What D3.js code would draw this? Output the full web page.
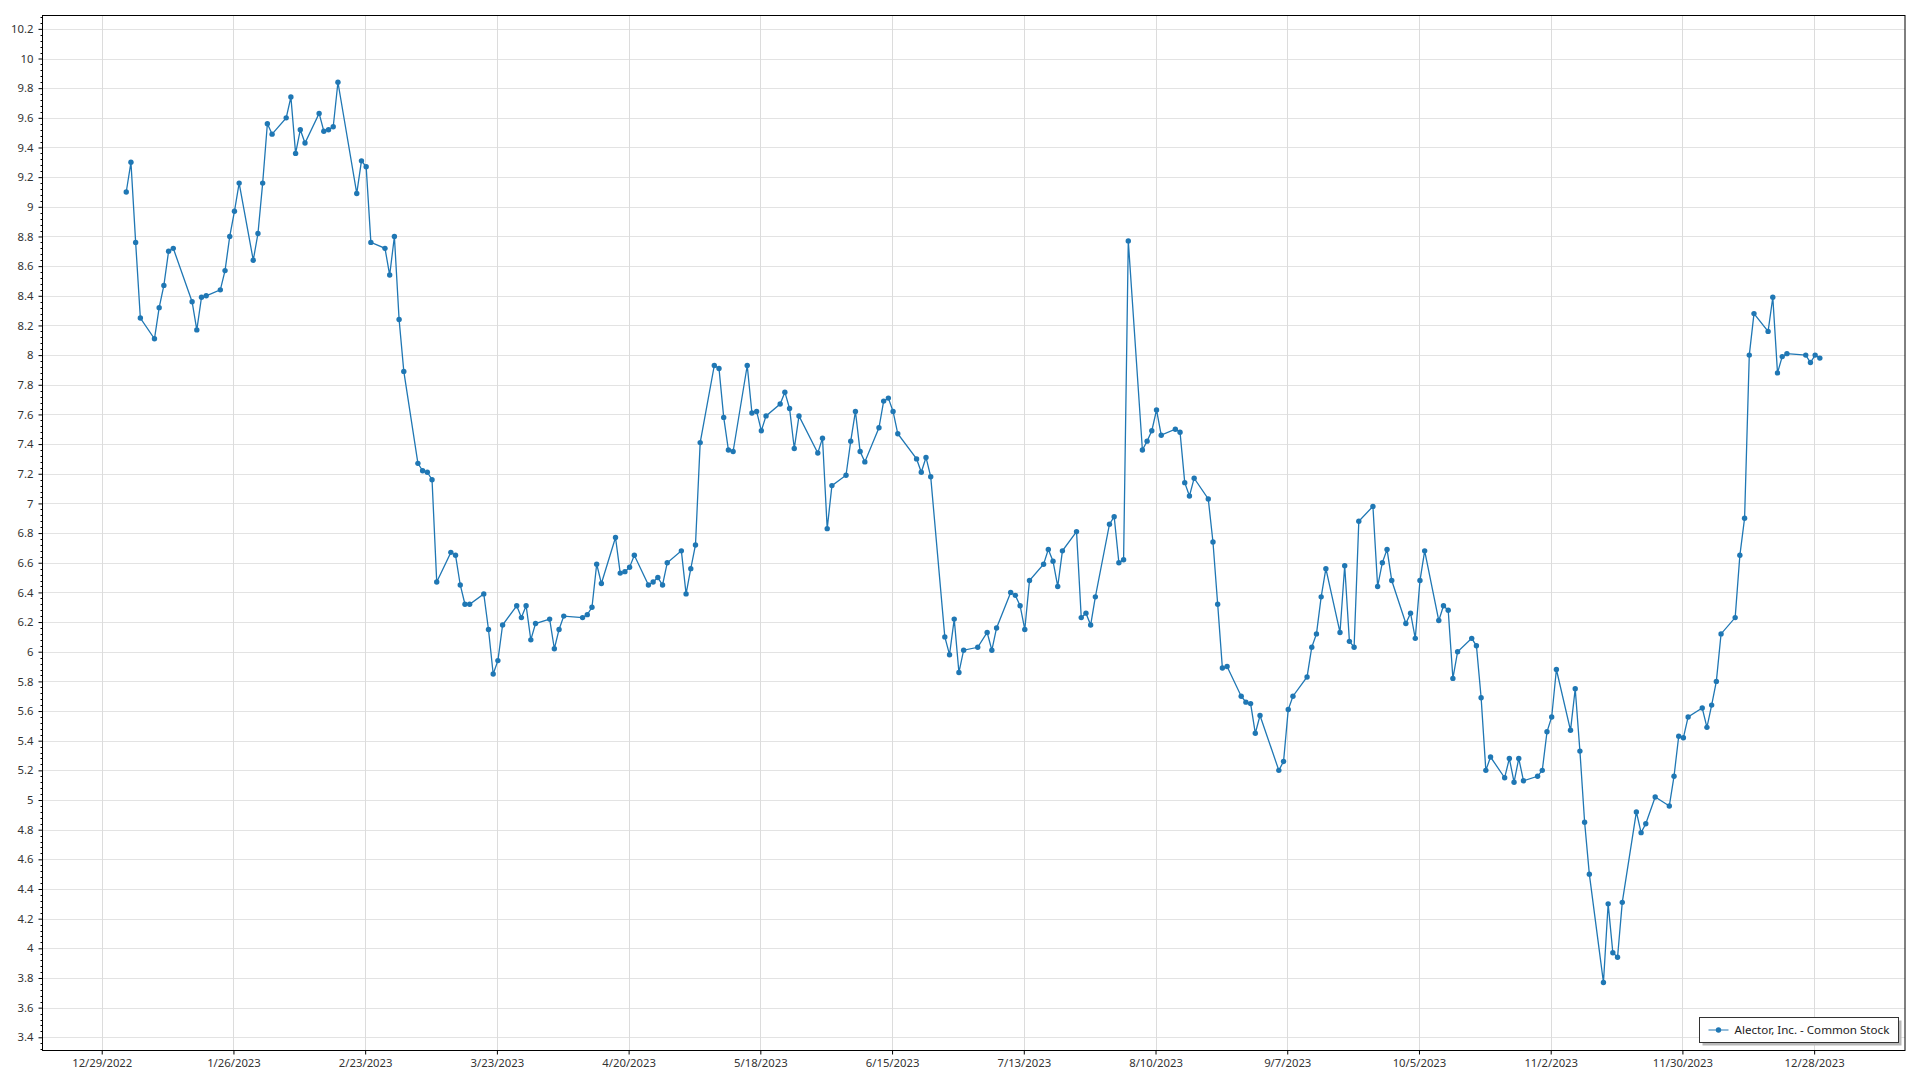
<!DOCTYPE html>
<html>
<head>
<meta charset="utf-8">
<script src="https://cdn.jsdelivr.net/npm/d3@7"></script>
<style>
  html, body { margin: 0; padding: 0; background: #ffffff; }
  svg { display: block; }
  text { font-family: "Noto Sans", "Open Sans", sans-serif; }
</style>
</head>
<body>
<svg id="chart" width="1920" height="1080"></svg>
<script>
// ---- DATA (2023 trading days, closing price) ----
const seriesName = "Alector, Inc. - Common Stock";

const dates = [
  "01-03","01-04","01-05","01-06","01-09","01-10","01-11","01-12","01-13","01-17","01-18","01-19","01-20","01-23","01-24","01-25","01-26","01-27","01-30","01-31",
  "02-01","02-02","02-03","02-06","02-07","02-08","02-09","02-10","02-13","02-14","02-15","02-16","02-17","02-21","02-22","02-23","02-24","02-27","02-28",
  "03-01","03-02","03-03","03-06","03-07","03-08","03-09","03-10","03-13","03-14","03-15","03-16","03-17","03-20","03-21","03-22","03-23","03-24","03-27","03-28","03-29","03-30","03-31",
  "04-03","04-04","04-05","04-06","04-10","04-11","04-12","04-13","04-14","04-17","04-18","04-19","04-20","04-21","04-24","04-25","04-26","04-27","04-28",
  "05-01","05-02","05-03","05-04","05-05","05-08","05-09","05-10","05-11","05-12","05-15","05-16","05-17","05-18","05-19","05-22","05-23","05-24","05-25","05-26","05-30","05-31",
  "06-01","06-02","06-05","06-06","06-07","06-08","06-09","06-12","06-13","06-14","06-15","06-16","06-20","06-21","06-22","06-23","06-26","06-27","06-28","06-29","06-30",
  "07-03","07-05","07-06","07-07","07-10","07-11","07-12","07-13","07-14","07-17","07-18","07-19","07-20","07-21","07-24","07-25","07-26","07-27","07-28","07-31",
  "08-01","08-02","08-03","08-04","08-07","08-08","08-09","08-10","08-11","08-14","08-15","08-16","08-17","08-18","08-21","08-22","08-23","08-24","08-25","08-28","08-29","08-30","08-31",
  "09-01","09-05","09-06","09-07","09-08","09-11","09-12","09-13","09-14","09-15","09-18","09-19","09-20","09-21","09-22","09-25","09-26","09-27","09-28","09-29",
  "10-02","10-03","10-04","10-05","10-06","10-09","10-10","10-11","10-12","10-13","10-16","10-17","10-18","10-19","10-20","10-23","10-24","10-25","10-26","10-27","10-30","10-31",
  "11-01","11-02","11-03","11-06","11-07","11-08","11-09","11-10","11-13","11-14","11-15","11-16","11-17","11-20","11-21","11-22","11-24","11-27","11-28","11-29","11-30",
  "12-01","12-04","12-05","12-06","12-07","12-08","12-11","12-12","12-13","12-14","12-15","12-18","12-19","12-20","12-21","12-22","12-26","12-27","12-28","12-29"
];

const prices = [
  9.10,9.30,8.76,8.25,8.11,8.32,8.47,8.70,8.72,8.36,8.17,8.39,8.40,8.44,8.57,8.80,8.97,9.16,8.64,8.82,
  9.16,9.56,9.49,9.60,9.74,9.36,9.52,9.43,9.63,9.51,9.52,9.54,9.84,9.09,9.31,9.27,8.76,8.72,8.54,
  8.80,8.24,7.89,7.27,7.22,7.21,7.16,6.47,6.67,6.65,6.45,6.32,6.32,6.39,6.15,5.85,5.94,6.18,6.31,6.23,6.31,6.08,6.19,
  6.22,6.02,6.15,6.24,6.23,6.25,6.30,6.59,6.46,6.77,6.53,6.54,6.57,6.65,6.45,6.47,6.50,6.45,6.60,
  6.68,6.39,6.56,6.72,7.41,7.93,7.91,7.58,7.36,7.35,7.93,7.61,7.62,7.49,7.59,7.67,7.75,7.64,7.37,7.59,7.34,7.44,
  6.83,7.12,7.19,7.42,7.62,7.35,7.28,7.51,7.69,7.71,7.62,7.47,7.30,7.21,7.31,7.18,6.10,5.98,6.22,5.86,6.01,
  6.03,6.13,6.01,6.16,6.40,6.38,6.31,6.15,6.48,6.59,6.69,6.61,6.44,6.68,6.81,6.23,6.26,6.18,6.37,6.86,
  6.91,6.60,6.62,8.77,7.36,7.42,7.49,7.63,7.46,7.50,7.48,7.14,7.05,7.17,7.03,6.74,6.32,5.89,5.90,5.70,5.66,5.65,5.45,
  5.57,5.20,5.26,5.61,5.70,5.83,6.03,6.12,6.37,6.56,6.13,6.58,6.07,6.03,6.88,6.98,6.44,6.60,6.69,6.48,
  6.19,6.26,6.09,6.48,6.68,6.21,6.31,6.28,5.82,6.00,6.09,6.04,5.69,5.20,5.29,5.15,5.28,5.12,5.28,5.13,5.16,5.20,
  5.46,5.56,5.88,5.47,5.75,5.33,4.85,4.50,3.77,4.30,3.97,3.94,4.31,4.92,4.78,4.84,5.02,4.96,5.16,5.43,5.42,
  5.56,5.62,5.49,5.64,5.80,6.12,6.23,6.65,6.90,8.00,8.28,8.16,8.39,7.88,7.99,8.01,8.00,7.95,8.00,7.98
];

const xTickLabels = ["12/29/2022","1/26/2023","2/23/2023","3/23/2023","4/20/2023","5/18/2023","6/15/2023",
                     "7/13/2023","8/10/2023","9/7/2023","10/5/2023","11/2/2023","11/30/2023","12/28/2023"];

const yTicks = [3.4,3.6,3.8,4,4.2,4.4,4.6,4.8,5,5.2,5.4,5.6,5.8,6,6.2,6.4,6.6,6.8,7,7.2,7.4,7.6,7.8,8,
                8.2,8.4,8.6,8.8,9,9.2,9.4,9.6,9.8,10,10.2];

// ---- LAYOUT ----
const plot = { left: 42.5, top: 15.5, right: 1905, bottom: 1050.5 };
const DAY = 864e5;
const color = "#1f77b4";
const labelFont = "'Noto Sans', 'Open Sans', sans-serif";

const parseMD = s => { const [m, d] = s.split("-").map(Number); return new Date(Date.UTC(2023, m - 1, d)); };
const parseTick = s => { const [m, d, y] = s.split("/").map(Number); return new Date(Date.UTC(y, m - 1, d)); };

const data = dates.map((s, i) => ({ date: parseMD(s), value: prices[i] }));

const first = data[0].date, last = data[data.length - 1].date;
const x = d3.scaleUtc()
  .domain([new Date(+first - 17.8 * DAY), new Date(+last + 18.1 * DAY)])
  .range([plot.left, plot.right]);
const y = d3.scaleLinear()
  .domain([3.311, 10.29])
  .range([plot.bottom, plot.top]);

const svg = d3.select("#chart");

// gridlines
const grid = svg.append("g");
grid.selectAll("line.hg").data(yTicks).join("line")
  .attr("x1", plot.left).attr("x2", plot.right)
  .attr("y1", d => Math.round(y(d)) + 0.5).attr("y2", d => Math.round(y(d)) + 0.5)
  .attr("stroke", "#e3e3e3").attr("stroke-width", 1);
const xTickDates = xTickLabels.map(parseTick);
grid.selectAll("line.vg").data(xTickDates).join("line")
  .attr("y1", plot.top).attr("y2", plot.bottom)
  .attr("x1", d => Math.round(x(d)) - 0.5).attr("x2", d => Math.round(x(d)) - 0.5)
  .attr("stroke", "#dcdcdc").attr("stroke-width", 1);

// frame
svg.append("rect")
  .attr("x", plot.left).attr("y", plot.top)
  .attr("width", plot.right - plot.left).attr("height", plot.bottom - plot.top)
  .attr("fill", "none").attr("stroke", "#000").attr("stroke-width", 1);

// y axis
const yAxis = d3.axisLeft(y)
  .tickValues(yTicks)
  .tickSize(4)
  .tickPadding(5)
  .tickFormat(d => String(+d.toFixed(1)));
const gy = svg.append("g").attr("transform", `translate(${plot.left},0)`).call(yAxis);
gy.select(".domain").remove();
gy.selectAll(".tick line").attr("stroke", "#000");
gy.selectAll(".tick text").attr("fill", "#333").style("font-size", "11.3px").style("font-family", labelFont);

// y minor ticks
const minor = d3.range(3.32, 10.29, 0.04).filter(v => Math.abs(v * 5 - Math.round(v * 5)) > 0.01);
svg.append("g").selectAll("line").data(minor).join("line")
  .attr("x1", plot.left - 2).attr("x2", plot.left)
  .attr("y1", d => Math.round(y(d)) + 0.5).attr("y2", d => Math.round(y(d)) + 0.5)
  .attr("stroke", "#000").attr("stroke-width", 1);

// x axis
const xAxis = d3.axisBottom(x)
  .tickValues(xTickDates)
  .tickSize(4)
  .tickPadding(4)
  .tickFormat((d, i) => xTickLabels[i]);
const gx = svg.append("g").attr("transform", `translate(-1,${plot.bottom})`).call(xAxis);
gx.select(".domain").remove();
gx.selectAll(".tick line").attr("stroke", "#000");
gx.selectAll(".tick text").attr("fill", "#333").style("font-size", "11.3px").style("font-family", labelFont);

// series line
const line = d3.line().x(d => x(d.date)).y(d => y(d.value));
svg.append("path").datum(data)
  .attr("d", line).attr("fill", "none")
  .attr("stroke", color).attr("stroke-width", 1.3);

svg.append("g").selectAll("circle").data(data).join("circle")
  .attr("cx", d => x(d.date)).attr("cy", d => y(d.value))
  .attr("r", 2.7).attr("fill", color);

// legend
const lg = svg.append("g");
const lx = 1699.5, ly = 1017.5, lw = 199, lh = 25;
lg.append("rect").attr("x", lx + 3).attr("y", ly + 3).attr("width", lw).attr("height", lh)
  .attr("fill", "#b8b8b8");
lg.append("rect").attr("x", lx).attr("y", ly).attr("width", lw).attr("height", lh)
  .attr("fill", "#fff").attr("stroke", "#333").attr("stroke-width", 1);
lg.append("line").attr("x1", lx + 9).attr("x2", lx + 29)
  .attr("y1", ly + lh / 2).attr("y2", ly + lh / 2)
  .attr("stroke", color).attr("stroke-opacity", 0.65).attr("stroke-width", 1.5);
lg.append("circle").attr("cx", lx + 19).attr("cy", ly + lh / 2).attr("r", 2.7).attr("fill", color);
lg.append("text").attr("x", lx + 35).attr("y", ly + lh / 2).attr("dy", "0.35em")
  .attr("fill", "#222").style("font-size", "11.6px").text(seriesName);
</script>
</body>
</html>
